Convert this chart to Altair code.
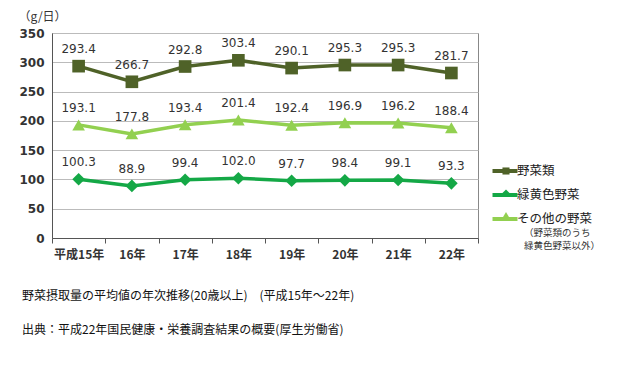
import altair as alt
import pandas as pd

years = ["平成15年", "16年", "17年", "18年", "19年", "20年", "21年", "22年"]
yasai = [293.4, 266.7, 292.8, 303.4, 290.1, 295.3, 295.3, 281.7]
ryokuou = [100.3, 88.9, 99.4, 102.0, 97.7, 98.4, 99.1, 93.3]
sonota = [193.1, 177.8, 193.4, 201.4, 192.4, 196.9, 196.2, 188.4]
series_names = ["野菜類", "緑黄色野菜", "その他の野菜"]
marker_keys = ["m1", "m2", "m3"]
series_colors = ["#4f6228", "#14a846", "#92d050"]
series_shapes = ["square", "diamond", "triangle-up"]
y_ticks = [0, 50, 100, 150, 200, 250, 300, 350]
note_lines = ["（野菜類のうち", "緑黄色野菜以外）"]
caption_lines = [
    "野菜摂取量の平均値の年次推移(20歳以上)　(平成15年～22年)",
    "出典：平成22年国民健康・栄養調査結果の概要(厚生労働省)",
]

rows = []
for name, key, vals in zip(series_names, marker_keys, [yasai, ryokuou, sonota]):
    for yr, v in zip(years, vals):
        rows.append({"year": yr, "value": v, "series": name, "marker": key,
                     "label": f"{v:.1f}"})
df = pd.DataFrame(rows)

JP = "Noto Sans CJK JP"

x = alt.X("year:N", sort=years,
          scale=alt.Scale(type="band", paddingInner=0, paddingOuter=0),
          axis=alt.Axis(title=None, labelAngle=0, tickBand="extent", ticks=True,
                        tickSize=5, tickColor="#555", domainColor="#555",
                        labelFont=JP, labelFontSize=12, labelFontWeight="bold",
                        labelColor="#333", labelPadding=6, grid=False))
y = alt.Y("value:Q", scale=alt.Scale(domain=[0, 350], nice=False),
          axis=alt.Axis(values=y_ticks, title="（g/日）", titleAngle=0,
                        titleAlign="left", titleBaseline="middle",
                        titleX=-34, titleY=-17, titleFont=JP, titleFontSize=12,
                        titleFontWeight="normal", titleColor="#333",
                        ticks=False, labelPadding=8, labelFont="DejaVu Sans",
                        labelFontSize=12, labelFontWeight="bold", labelColor="#333",
                        domainColor="#555", gridColor="#bbbbbb"))

lines = alt.Chart(df).mark_line(strokeWidth=3.5).encode(
    x=x, y=y,
    color=alt.Color("series:N", sort=series_names,
                    scale=alt.Scale(domain=series_names, range=series_colors),
                    legend=alt.Legend(title=None, orient="none", legendX=446, legendY=131,
                                      symbolType="M-2.5,0H2.5", symbolSize=100,
                                      symbolStrokeWidth=4, labelFont=JP,
                                      labelFontSize=12.5, labelColor="#222",
                                      rowPadding=8, labelOffset=5)),
)

points = alt.Chart(df).mark_point(filled=True, opacity=1, size=160).encode(
    x=x, y=y,
    fill=alt.Fill("marker:N", scale=alt.Scale(domain=marker_keys, range=series_colors),
                  legend=alt.Legend(title=None, orient="none", legendX=447, legendY=131,
                                    symbolSize=50, labelExpr="''", labelFontSize=14,
                                    rowPadding=8, symbolStrokeWidth=0)),
    shape=alt.Shape("marker:N", scale=alt.Scale(domain=marker_keys, range=series_shapes)),
)

labels = alt.Chart(df).mark_text(dy=-17, font="DejaVu Sans", fontSize=12,
                                 color="#333").encode(
    x=x, y=y, text="label:N")

layers = [lines, points, labels]
for i, t in enumerate(note_lines):
    layers.append(alt.Chart(pd.DataFrame({"t": [t]})).mark_text(
        align="left", baseline="middle", font=JP, fontSize=9.5, color="#333").encode(
        x=alt.value(472), y=alt.value(200 + 13 * i), text="t:N"))
for i, t in enumerate(caption_lines):
    layers.append(alt.Chart(pd.DataFrame({"t": [t]})).mark_text(
        align="left", baseline="middle", font=JP, fontSize=12, color="#111").encode(
        x=alt.value(-30), y=alt.value(263 + 34 * i), text="t:N"))

chart = alt.layer(*layers).properties(
    width=426, height=205,
    autosize=alt.AutoSizeParams(type="none"),
    padding={"left": 44, "top": 25, "right": 134, "bottom": 126},
).configure_view(stroke="#888", strokeWidth=1)

chart.save("out.html", embed_options={"renderer": "svg", "actions": False})
